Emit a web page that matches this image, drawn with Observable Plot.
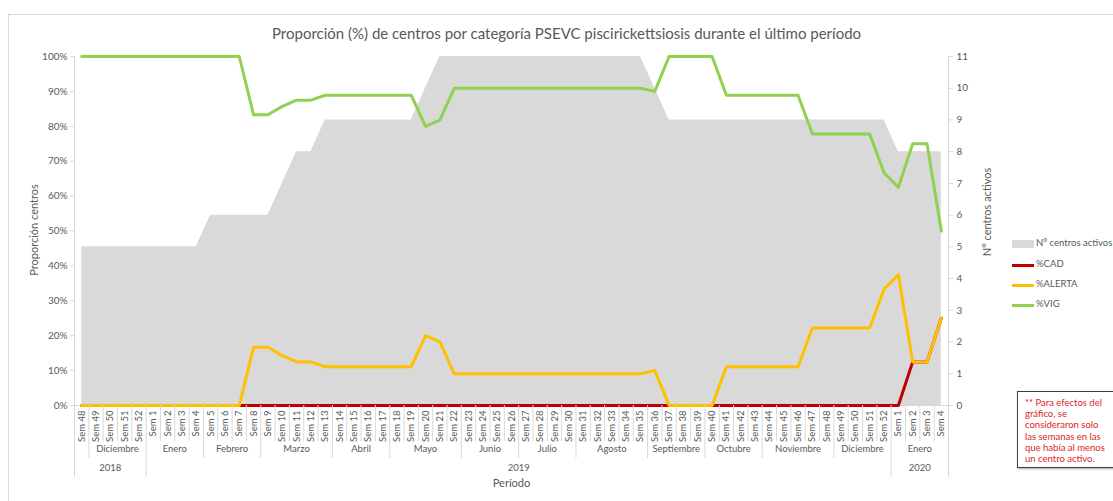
<!DOCTYPE html>
<html>
<head>
<meta charset="utf-8">
<script src="https://cdn.jsdelivr.net/npm/d3@7"></script>
<script src="https://cdn.jsdelivr.net/npm/@observablehq/plot@0.6"></script>
<style>
  html, body { margin: 0; padding: 0; background: #fff; }
  body { width: 1113px; height: 501px; overflow: hidden; position: relative; font-family: Lato, "Noto Sans", sans-serif; color: #595959; }
  #frame { position: absolute; left: 8px; top: 14px; width: 1200px; height: 600px; border: 1px solid #d9d9d9; box-sizing: border-box; }
  #title { position: relative; height: 45px; box-sizing: border-box; padding-top: 24px; padding-left: 20px; text-align: center; font-size: 15px; line-height: 18px; }
  #chart { position: relative; }
  .abs { position: absolute; white-space: nowrap; }
  .rot { transform: translate(-50%, -50%) rotate(-90deg); font-size: 11px; }
  .leg { position: absolute; left: 1012px; font-size: 9.5px; }
  .leg span.sw { position: absolute; left: 0; width: 22px; }
  .leg span.tx { position: absolute; left: 24px; top: -7px; white-space: nowrap; }
  #note { position: absolute; left: 1017px; top: 391px; width: 110px; height: 77px; border: 1.5px solid #3f3f3f; box-sizing: border-box; box-shadow: 1px 1px 2px rgba(0,0,0,0.35); background: #fff; color: #dc2328; font-size: 9.5px; line-height: 11.2px; padding: 5px 0 0 7px; }
</style>
</head>
<body>
<div id="frame"></div>
<div id="title">Proporción (%) de centros por categoría PSEVC piscirickettsiosis durante el último período</div>
<div id="chart"></div>
<div class="abs rot" style="left:33px; top:230px;">Proporción centros</div>
<div class="abs rot" style="left:986px; top:212px;">N° centros activos</div>
<div class="leg" style="top:244px;"><span class="sw" style="top:-4px; height:8px; background:#d9d9d9;"></span><span class="tx">N° centros activos</span></div>
<div class="leg" style="top:265px;"><span class="sw" style="top:-1.5px; height:3px; background:#c00000;"></span><span class="tx">%CAD</span></div>
<div class="leg" style="top:285px;"><span class="sw" style="top:-1.5px; height:3px; background:#ffc000;"></span><span class="tx">%ALERTA</span></div>
<div class="leg" style="top:305px;"><span class="sw" style="top:-1.5px; height:3px; background:#92d050;"></span><span class="tx">%VIG</span></div>
<div id="note">** Para efectos del<br>gráfico, se<br>consideraron solo<br>las semanas en las<br>que había al menos<br>un centro activo.</div>
<script>
// ---- Data ----
const weeks = [
  "Sem 48","Sem 49","Sem 50","Sem 51","Sem 52",
  "Sem 1","Sem 2","Sem 3","Sem 4","Sem 5","Sem 6","Sem 7","Sem 8","Sem 9","Sem 10",
  "Sem 11","Sem 12","Sem 13","Sem 14","Sem 15","Sem 16","Sem 17","Sem 18","Sem 19","Sem 20",
  "Sem 21","Sem 22","Sem 23","Sem 24","Sem 25","Sem 26","Sem 27","Sem 28","Sem 29","Sem 30",
  "Sem 31","Sem 32","Sem 33","Sem 34","Sem 35","Sem 36","Sem 37","Sem 38","Sem 39","Sem 40",
  "Sem 41","Sem 42","Sem 43","Sem 44","Sem 45","Sem 46","Sem 47","Sem 48","Sem 49","Sem 50",
  "Sem 51","Sem 52",
  "Sem 1","Sem 2","Sem 3","Sem 4"
];
const centrosActivos = [
  5,5,5,5,5, 5,5,5,5, 6,6,6,6,6, 7, 8,8, 9,9,9,9,9,9,9, 10,
  11,11,11,11,11,11,11,11,11,11,11,11,11,11,11, 10,
  9,9,9,9,9,9,9,9,9,9,9,9,9,9,9,9, 8,8,8,8
];
const pctCAD = [
  0,0,0,0,0, 0,0,0,0, 0,0,0,0,0, 0, 0,0, 0,0,0,0,0,0,0, 0,
  0,0,0,0,0,0,0,0,0,0,0,0,0,0,0, 0,
  0,0,0,0,0,0,0,0,0,0,0,0,0,0,0,0, 0,12.5,12.5,25
];
const pctALERTA = [
  0,0,0,0,0, 0,0,0,0, 0,0,0,16.7,16.7,14.3, 12.5,12.5, 11.1,11.1,11.1,11.1,11.1,11.1,11.1, 20,
  18.2,9.1,9.1,9.1,9.1,9.1,9.1,9.1,9.1,9.1,9.1,9.1,9.1,9.1,9.1, 10,
  0,0,0,0,11.1,11.1,11.1,11.1,11.1,11.1,22.2,22.2,22.2,22.2,22.2,33.3, 37.5,12.5,12.5,25
];
const pctVIG = [
  100,100,100,100,100, 100,100,100,100, 100,100,100,83.3,83.3,85.7, 87.5,87.5, 88.9,88.9,88.9,88.9,88.9,88.9,88.9, 80,
  81.8,90.9,90.9,90.9,90.9,90.9,90.9,90.9,90.9,90.9,90.9,90.9,90.9,90.9,90.9, 90,
  100,100,100,100,88.9,88.9,88.9,88.9,88.9,88.9,77.8,77.8,77.8,77.8,77.8,66.7, 62.5,75,75,50
];
const monthNames = ["", "Diciembre","Enero","Febrero","Marzo","Abril","Mayo","Junio","Julio","Agosto","Septiembre","Octubre","Noviembre","Diciembre","Enero"];
const monthStart = [0, 1, 5, 9, 13, 18, 22, 27, 31, 35, 40, 44, 48, 53, 57];
const monthEnd   = [0, 4, 8, 12, 17, 21, 26, 30, 34, 39, 43, 47, 52, 56, 60];
const yearNames = ["2018", "2019", "2020"];
const yearStart = [0, 5, 57];
const yearEnd   = [4, 56, 60];
const pctTicks = [0,10,20,30,40,50,60,70,80,90,100];
const countTicks = [0,1,2,3,4,5,6,7,8,9,10,11];
const countMax = 11;

// ---- Build ----
const idx = weeks.map((_, i) => i);
const weekBounds = [-0.5, ...idx.map(i => i + 0.5)];
const monthBounds = [-0.5, ...monthEnd.map(e => e + 0.5)];
const yearBounds = [-0.5, ...yearEnd.map(e => e + 0.5)];
const gray = "#595959";
const lineCol = "#d9d9d9";
const H = 456, mT = 11, mB = 96;
const inner = H - mT - mB;

const chart = Plot.plot({
  width: 1113,
  height: H,
  marginLeft: 74,
  marginRight: 165,
  marginTop: mT,
  marginBottom: mB,
  style: { fontFamily: "Lato, 'Noto Sans', sans-serif", color: gray, background: "transparent" },
  x: { type: "linear", domain: [-0.5, weeks.length - 0.5], axis: null },
  y: { domain: [0, 100], axis: null },
  marks: [
    Plot.areaY(idx, { x: i => i, y: i => centrosActivos[i] * 100 / countMax, fill: "#d9d9d9" }),
    Plot.ruleY([0], { stroke: lineCol }),
    Plot.ruleX([-0.5, weeks.length - 0.5], { stroke: lineCol }),
    Plot.lineY(idx, { x: i => i, y: i => pctCAD[i], stroke: "#c00000", strokeWidth: 3 }),
    Plot.lineY(idx, { x: i => i, y: i => pctALERTA[i], stroke: "#ffc000", strokeWidth: 3 }),
    Plot.lineY(idx, { x: i => i, y: i => pctVIG[i], stroke: "#92d050", strokeWidth: 3 }),
    Plot.axisY(pctTicks, { anchor: "left", tickSize: 4, tickPadding: 3, stroke: lineCol, fill: gray, fontSize: 10, tickFormat: d => d + "%", label: null }),
    Plot.axisY(countTicks.map(k => k * 100 / countMax), { anchor: "right", tickSize: 4, tickPadding: 4, stroke: lineCol, fill: gray, fontSize: 10, tickFormat: d => String(Math.round(d * countMax / 100)), label: null }),
    // category axis: weeks
    Plot.ruleX(weekBounds, { x: d => d, stroke: lineCol, insetTop: inner, insetBottom: -36 }),
    Plot.text(idx, { x: i => i, text: i => weeks[i], frameAnchor: "bottom", rotate: -90, textAnchor: "end", lineAnchor: "middle", dy: 5, fontSize: 9.5, fill: gray }),
    // months
    Plot.ruleX(monthBounds, { x: d => d, stroke: lineCol, insetTop: inner + 36, insetBottom: -53 }),
    Plot.text(monthNames, { x: (d, i) => (monthStart[i] + monthEnd[i]) / 2, text: d => d, frameAnchor: "bottom", dy: 46, fontSize: 9.5, fill: gray }),
    // years
    Plot.ruleX(yearBounds, { x: d => d, stroke: lineCol, insetTop: inner + 53, insetBottom: -72 }),
    Plot.text(yearNames, { x: (d, i) => (yearStart[i] + yearEnd[i]) / 2, text: d => d, frameAnchor: "bottom", dy: 65, fontSize: 9.5, fill: gray }),
    Plot.text(["Período"], { frameAnchor: "bottom", text: d => d, dy: 81, fontSize: 11, fill: gray })
  ]
});
document.getElementById("chart").appendChild(chart);
</script>
</body>
</html>
